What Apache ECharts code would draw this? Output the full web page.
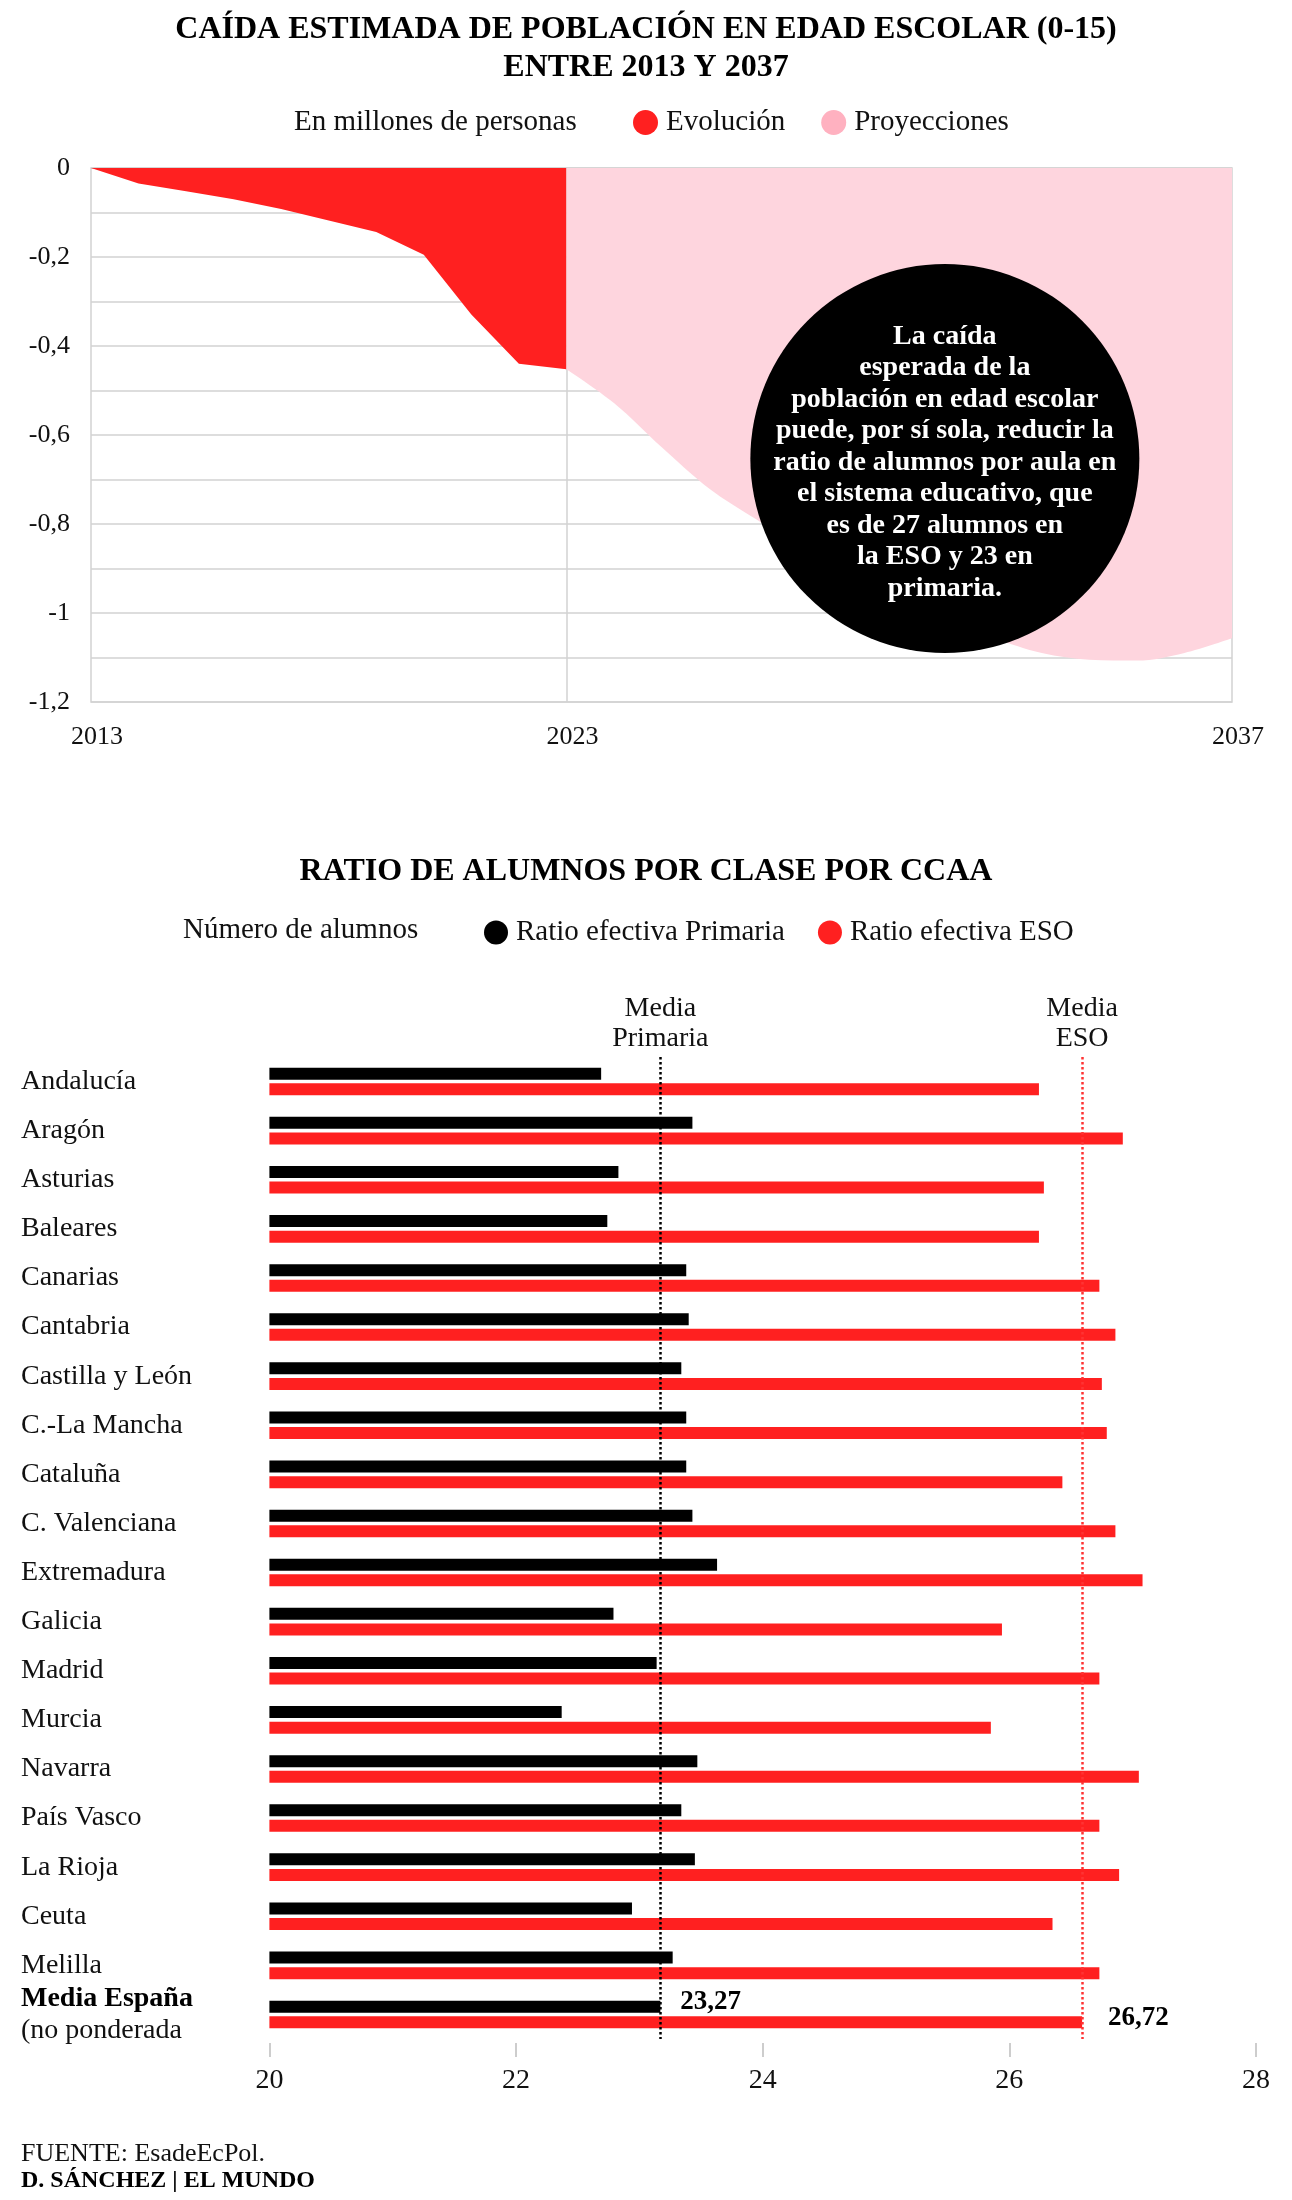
<!DOCTYPE html>
<html>
<head>
<meta charset="utf-8">
<script src="https://cdn.jsdelivr.net/npm/echarts@6/dist/echarts.min.js"></script>
<style>
html,body{margin:0;padding:0;background:#fff;}
#chart{width:1292px;height:2200px;}
</style>
</head>
<body>
<div id="chart"></div>
<script>
// ---------- DATA: chart 1 ----------
const evoYears = [2013, 2014, 2015, 2016, 2017, 2018, 2019, 2020, 2021, 2022, 2023];
const evoValues = [0, -0.035, -0.052, -0.07, -0.092, -0.118, -0.144, -0.195, -0.329, -0.44, -0.452];
const projYears = [2023, 2024, 2025, 2026, 2027, 2028, 2029, 2030, 2031, 2032, 2033, 2034, 2035, 2036, 2037];
const projValues = [-0.452, -0.528, -0.627, -0.72, -0.79, -0.86, -0.925, -0.98, -1.025, -1.058, -1.09, -1.105, -1.107, -1.09, -1.057];
const yearLabels = [2013, 2023, 2037];
const annotationPoint = [2030.96, -0.653];
const annotationText = 'La caída\nesperada de la\npoblación en edad escolar\npuede, por sí sola, reducir la\nratio de alumnos por aula en\nel sistema educativo, que\nes de 27 alumnos en\nla ESO y 23 en\nprimaria.';

// ---------- DATA: chart 2 ----------
const categories = ['Andalucía', 'Aragón', 'Asturias', 'Baleares', 'Canarias', 'Cantabria', 'Castilla y León', 'C.-La Mancha', 'Cataluña', 'C. Valenciana', 'Extremadura', 'Galicia', 'Madrid', 'Murcia', 'Navarra', 'País Vasco', 'La Rioja', 'Ceuta', 'Melilla', 'Media España'];
const primaria = [22.69, 23.43, 22.83, 22.74, 23.38, 23.40, 23.34, 23.38, 23.38, 23.43, 23.63, 22.79, 23.14, 22.37, 23.47, 23.34, 23.45, 22.94, 23.27, 23.17];
const eso = [26.24, 26.92, 26.28, 26.24, 26.73, 26.86, 26.75, 26.79, 26.43, 26.86, 27.08, 25.94, 26.73, 25.85, 27.05, 26.73, 26.89, 26.35, 26.73, 26.59];
const mediaLines = [23.17, 26.59];
const mediaLabels = ['23,27', '26,72'];
const mediaNote = '(no ponderada';

// ---------- STYLE ----------
const FONT = 'Liberation Serif';
const RED = '#ff2020';
const PINK = '#fed5de';
const PINK_LEGEND = '#ffb1c0';
const GRIDC = '#d2d2d2';
const TXT = '#111';

const chart = echarts.init(document.getElementById('chart'), null, {renderer: 'canvas'});
const last = categories.length - 1;

const option = {
  backgroundColor: '#fff',
  animation: false,
  textStyle: {fontFamily: FONT},
  title: [
    {text: 'CAÍDA ESTIMADA DE POBLACIÓN EN EDAD ESCOLAR (0-15)\nENTRE 2013 Y 2037', left: 'center', top: 11, padding: 0,
     textStyle: {fontFamily: FONT, fontSize: 32, fontWeight: 'bold', lineHeight: 38, color: '#000'}},
    {text: 'En millones de personas', left: 294, top: 107, padding: 0,
     textStyle: {fontFamily: FONT, fontSize: 29, fontWeight: 'normal', lineHeight: 30, color: TXT}},
    {text: 'RATIO DE ALUMNOS POR CLASE POR CCAA', left: 'center', top: 853, padding: 0,
     textStyle: {fontFamily: FONT, fontSize: 32, fontWeight: 'bold', lineHeight: 38, color: '#000'}},
    {text: 'Número de alumnos', left: 183, top: 915, padding: 0,
     textStyle: {fontFamily: FONT, fontSize: 29, fontWeight: 'normal', lineHeight: 30, color: TXT}},
    {text: 'FUENTE: EsadeEcPol.', left: 21, top: 2140, padding: 0,
     textStyle: {fontFamily: FONT, fontSize: 26, fontWeight: 'normal', lineHeight: 28, color: TXT}},
    {text: 'D. SÁNCHEZ | EL MUNDO', left: 21, top: 2167, padding: 0,
     textStyle: {fontFamily: FONT, fontSize: 24, fontWeight: 'bold', lineHeight: 28, color: '#000'}}
  ],
  legend: [
    {data: [{name: 'Evolución', itemStyle: {color: RED}}, {name: 'Proyecciones', itemStyle: {color: PINK_LEGEND}}],
     left: 633, top: 108, padding: 0, icon: 'circle', itemWidth: 25, itemHeight: 25, itemGap: 36, selectedMode: false,
     textStyle: {fontFamily: FONT, fontSize: 29, color: TXT, padding: [0, 0, 0, 3]}},
    {data: [{name: 'Ratio efectiva Primaria', itemStyle: {color: '#000'}}, {name: 'Ratio efectiva ESO', itemStyle: {color: RED}}],
     left: 484, top: 918, padding: 0, icon: 'circle', itemWidth: 24, itemHeight: 24, itemGap: 33, selectedMode: false,
     textStyle: {fontFamily: FONT, fontSize: 29, color: TXT, padding: [0, 0, 0, 3]}}
  ],
  grid: [
    {left: 91, top: 168, width: 1141, height: 534, show: true, borderColor: GRIDC, borderWidth: 1.5, backgroundColor: 'transparent'},
    {left: 269.4, top: 1057, width: 986.6, height: 982}
  ],
  xAxis: [
    {gridIndex: 0, type: 'value', min: 2013, max: 2037,
     axisLine: {show: false}, axisTick: {show: false}, splitLine: {show: false},
     axisLabel: {customValues: yearLabels, formatter: v => String(v), margin: 22, fontSize: 26, color: TXT, fontFamily: FONT,
       padding: [0, 0, 0, 12]}},
    {gridIndex: 1, type: 'value', min: 20, max: 28, interval: 2, offset: 4,
     axisLine: {show: false}, axisTick: {show: true, length: 14, lineStyle: {color: '#bdbdbd', width: 1.5}},
     splitLine: {show: false},
     axisLabel: {margin: 24, fontSize: 28, color: TXT, fontFamily: FONT}}
  ],
  yAxis: [
    {gridIndex: 0, type: 'value', min: -1.2, max: 0, interval: 0.1,
     axisLine: {show: false}, axisTick: {show: false},
     splitLine: {show: true, lineStyle: {color: GRIDC, width: 1.5}},
     axisLabel: {margin: 21, fontSize: 26, color: TXT, fontFamily: FONT,
       formatter: v => { const k = Math.round(v * 10); if (k % 2 !== 0) return ''; return String(k / 10).replace('.', ','); }}},
    {gridIndex: 1, type: 'category', data: categories, inverse: true,
     axisLine: {show: false}, axisTick: {show: false}, splitLine: {show: false},
     axisLabel: {align: 'left', margin: 248.4, fontSize: 28, color: TXT, fontFamily: FONT,
       formatter: v => v === categories[last] ? '{b|' + v + '}\n{n|' + mediaNote + '}' : v,
       rich: {b: {fontSize: 28, fontWeight: 'bold', fontFamily: FONT, color: '#000', lineHeight: 32},
              n: {fontSize: 28, fontFamily: FONT, color: TXT, lineHeight: 32}}}}
  ],
  series: [
    {type: 'line', xAxisIndex: 0, yAxisIndex: 0, data: [], z: 1, silent: true,
     markLine: {z: 1, silent: true, symbol: 'none', label: {show: false}, animation: false,
       lineStyle: {color: GRIDC, width: 1.5, type: 'solid'}, data: [{xAxis: yearLabels[1]}]}},
    {name: 'Evolución', type: 'line', xAxisIndex: 0, yAxisIndex: 0, z: 3, silent: true,
     data: evoYears.map((y, i) => [y, evoValues[i]]), symbol: 'none', showSymbol: false,
     lineStyle: {width: 0}, itemStyle: {color: RED}, areaStyle: {color: RED, opacity: 1}},
    {name: 'Proyecciones', type: 'line', xAxisIndex: 0, yAxisIndex: 0, z: 3, silent: true, smooth: 0.35,
     data: projYears.map((y, i) => [y, projValues[i]]), symbol: 'none', showSymbol: false,
     lineStyle: {width: 0}, itemStyle: {color: PINK}, areaStyle: {color: PINK, opacity: 1}},
    {type: 'scatter', xAxisIndex: 0, yAxisIndex: 0, z: 10, silent: true,
     data: [annotationPoint], symbol: 'circle', symbolSize: 389, itemStyle: {color: '#000', opacity: 1},
     label: {show: true, position: 'inside', formatter: annotationText, offset: [0, 4],
       color: '#fff', fontFamily: FONT, fontSize: 28, fontWeight: 'bold', lineHeight: 31.5, align: 'center'}},
    {name: 'Ratio efectiva Primaria', type: 'bar', xAxisIndex: 1, yAxisIndex: 1, barWidth: 12, barGap: '30%', silent: true,
     itemStyle: {color: '#000'},
     data: primaria.map((v, i) => i === last ? {value: v, label: {show: true, position: 'right', distance: 20, offset: [0, -5],
        formatter: mediaLabels[0], fontFamily: FONT, fontSize: 27, fontWeight: 'bold', color: '#000'}} : v),
     markLine: {silent: true, symbol: 'none', animation: false,
       lineStyle: {color: '#000', width: 2.5, type: [2.5, 2.5]},
       label: {show: true, position: 'start', distance: 3, formatter: 'Media\nPrimaria', fontFamily: FONT, fontSize: 28, lineHeight: 30, color: TXT},
       data: [{xAxis: mediaLines[0]}]}},
    {name: 'Ratio efectiva ESO', type: 'bar', xAxisIndex: 1, yAxisIndex: 1, barWidth: 12, barGap: '30%', silent: true,
     itemStyle: {color: RED},
     data: eso.map((v, i) => i === last ? {value: v, label: {show: true, position: 'right', distance: 26, offset: [0, -4],
        formatter: mediaLabels[1], fontFamily: FONT, fontSize: 27, fontWeight: 'bold', color: '#000'}} : v),
     markLine: {silent: true, symbol: 'none', animation: false,
       lineStyle: {color: '#ff3333', width: 2.5, type: [2.5, 2.5]},
       label: {show: true, position: 'start', distance: 3, formatter: 'Media\nESO', fontFamily: FONT, fontSize: 28, lineHeight: 30, color: TXT},
       data: [{xAxis: mediaLines[1]}]}}
  ]
};
chart.setOption(option);
</script>
</body>
</html>
